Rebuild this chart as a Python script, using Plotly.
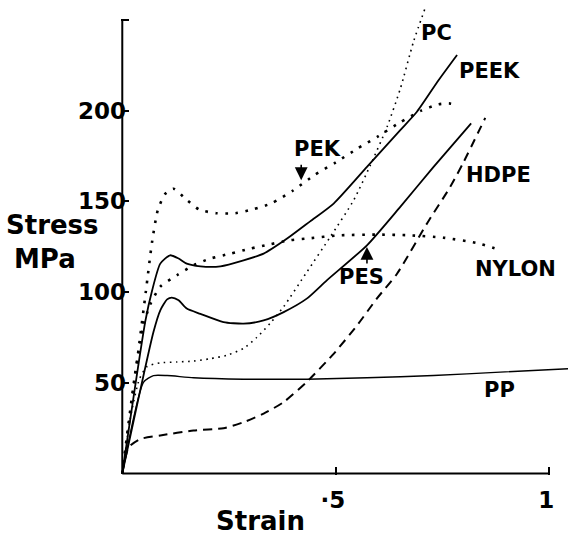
import plotly.graph_objects as go

# stress-strain curves (strain, MPa)
PEK_STRAIN = [0, 0.02, 0.04, 0.055, 0.07, 0.083, 0.1, 0.12, 0.15, 0.18, 0.22, 0.265, 0.307,
              0.35, 0.40, 0.45, 0.50, 0.55, 0.60, 0.65, 0.70, 0.74, 0.765, 0.787]
PEK_STRESS = [0, 35, 72, 100, 128, 145, 154, 157, 151, 145.5, 143.5, 143.5, 145.7,
              149, 156, 164.5, 171.5, 179, 186, 193.5, 200, 203.5, 204, 203]

PEEK_STRAIN = [0, 0.054, 0.07, 0.089, 0.112, 0.132, 0.151, 0.183, 0.23, 0.284, 0.331, 0.386,
               0.44, 0.495, 0.573, 0.651, 0.69, 0.741, 0.784]
PEEK_STRESS = [0, 84, 101, 115.7, 120.3, 118.5, 115.7, 114.2, 114.2, 117.5, 121.2, 129.5,
               139, 148.8, 169, 189.3, 199.4, 216.9, 230.7]

PES_STRAIN = [0, 0.073, 0.089, 0.105, 0.116, 0.132, 0.151, 0.183, 0.237, 0.284, 0.331, 0.378,
              0.432, 0.479, 0.573, 0.651, 0.729, 0.817]
PES_STRESS = [0, 78, 90, 96, 97, 95.5, 90.9, 88, 83.5, 82.6, 84.4, 89,
              96.4, 106.5, 125.8, 147, 169, 193]

PC_STRAIN = [0, 0.02, 0.04, 0.058, 0.089, 0.128, 0.167, 0.206, 0.245, 0.284, 0.315, 0.347,
             0.378, 0.432, 0.487, 0.542, 0.581, 0.62, 0.651, 0.682, 0.71]
PC_STRESS = [0, 32, 52, 59, 61, 61.5, 62, 63.3, 65.2, 69, 75, 83,
             92, 111, 130.4, 150.7, 170, 191, 212, 238, 257]

NYLON_STRAIN = [0, 0.03, 0.05, 0.065, 0.089, 0.128, 0.167, 0.206, 0.253, 0.30, 0.347, 0.393,
                0.432, 0.51, 0.596, 0.674, 0.752, 0.831, 0.887]
NYLON_STRESS = [0, 55, 82, 93, 103, 109.3, 114.8, 118.5, 121.2, 124, 126.4, 128.6,
                129.5, 131.3, 131.7, 131.3, 130, 127, 123]

HDPE_STRAIN = [0, 0.015, 0.042, 0.089, 0.167, 0.237, 0.284, 0.331, 0.378, 0.432, 0.495, 0.55,
               0.596, 0.643, 0.714, 0.768, 0.80, 0.85]
HDPE_STRESS = [0, 14.5, 19, 21, 23.7, 25, 28.3, 33, 39.4, 50.5, 66, 81.7,
               96.4, 110, 138, 158, 172, 196]

PP_STRAIN = [0, 0.05, 0.073, 0.105, 0.167, 0.284, 0.432, 0.573, 0.729, 0.885, 1.045]
PP_STRESS = [0, 50.4, 54, 54, 52.8, 52, 52, 52.8, 54, 55.9, 57.8]

# curve labels: text, strain, stress
LABELS = [
    ("PC", 0.737, 242.6),
    ("PEEK", 0.859, 221.6),
    ("HDPE", 0.882, 164.5),
    ("PEK", 0.456, 179),
    ("NYLON", 0.92, 113),
    ("PES", 0.56, 108.4),
    ("PP", 0.883, 46.1),
]

X_TICKS = [0.5, 1]
X_TICK_TEXT = ["·5", "1"]
Y_TICKS = [50, 100, 150, 200, 250]
Y_TICK_TEXT = ["50", "100", "150", "200", ""]

FONT = "DejaVu Sans"

fig = go.Figure()


def add_curve(xs, ys, width, dash):
    fig.add_trace(
        go.Scatter(
            x=xs, y=ys, mode="lines",
            line=dict(color="black", width=width, dash=dash, shape="spline", smoothing=0.6),
            showlegend=False, hoverinfo="skip",
        )
    )


add_curve(PEK_STRAIN, PEK_STRESS, 2.6, "2.6px,7.5px")
add_curve(NYLON_STRAIN, NYLON_STRESS, 2.6, "2.6px,7.5px")
add_curve(PC_STRAIN, PC_STRESS, 1.6, "1.6px,4.5px")
add_curve(PEEK_STRAIN, PEEK_STRESS, 1.8, "solid")
add_curve(PES_STRAIN, PES_STRESS, 1.8, "solid")
add_curve(PP_STRAIN, PP_STRESS, 1.4, "solid")
add_curve(HDPE_STRAIN, HDPE_STRESS, 2.0, "9px,6px")

for text, sx, sy in LABELS:
    fig.add_annotation(x=sx, y=sy, text=text, showarrow=False,
                       font=dict(family=FONT, size=21, color="black", weight="bold"))

# marker arrows for PEK and PES
fig.add_annotation(x=0.419, y=161.7, ax=0, ay=-17, text="", showarrow=True,
                   arrowhead=2, arrowsize=1.6, arrowwidth=1.6, arrowcolor="black")
fig.add_annotation(x=0.573, y=124.9, ax=0, ay=18, text="", showarrow=True,
                   arrowhead=2, arrowsize=1.6, arrowwidth=1.6, arrowcolor="black")

# axis titles
title_font = dict(family=FONT, size=26, color="black", weight="bold")
fig.add_annotation(xref="paper", yref="paper", x=-0.262, y=0.526, text="Stress",
                   xanchor="left", yanchor="middle", showarrow=False, font=title_font)
fig.add_annotation(xref="paper", yref="paper", x=-0.244, y=0.455, text="MPa",
                   xanchor="left", yanchor="middle", showarrow=False, font=title_font)
fig.add_annotation(xref="paper", yref="paper", x=0.311, y=-0.097, text="Strain",
                   xanchor="center", yanchor="middle", showarrow=False, font=title_font)

# axis lines stop at strain 1 and 250 MPa, curves run past them
fig.add_shape(type="line", x0=0, y0=0, x1=1, y1=0, line=dict(color="black", width=2))
fig.add_shape(type="line", x0=0, y0=0, x1=0, y1=250, line=dict(color="black", width=2))

tick_font = dict(family=FONT, size=23, color="black", weight="bold")
fig.update_xaxes(range=[-0.003, 1.0438], showgrid=False, zeroline=False, showline=False,
                 tickvals=X_TICKS, ticktext=X_TICK_TEXT, ticks="inside", ticklen=8,
                 tickwidth=1.5, tickcolor="black", tickfont=tick_font,
                 ticklabelstandoff=9, ticklabelshift=-3)
fig.update_yaxes(range=[-0.8, 261], showgrid=False, zeroline=False, showline=False,
                 tickvals=Y_TICKS, ticktext=Y_TICK_TEXT, ticks="inside", ticklen=8,
                 tickwidth=1.5, tickcolor="black", tickfont=tick_font,
                 ticklabelstandoff=-6)

fig.update_layout(
    width=568, height=535,
    margin=dict(l=121, r=0, t=0, b=60),
    paper_bgcolor="white", plot_bgcolor="white",
    showlegend=False,
)

# drop the browser's default body margin so the figure sits at the page corner
fig.write_html("out.html", config={"displayModeBar": False},
               post_script="document.body.style.margin='0';")
